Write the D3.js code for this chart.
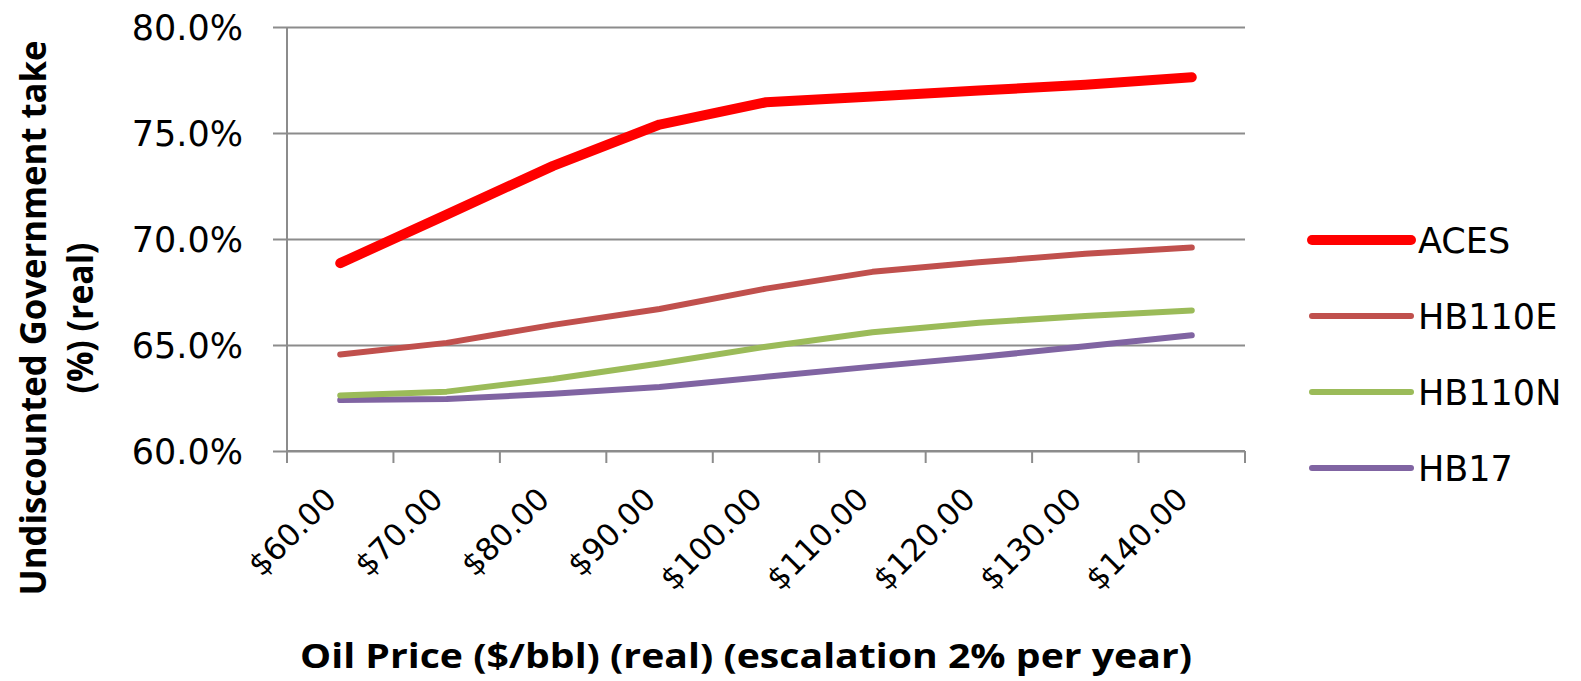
<!DOCTYPE html>
<html>
<head>
<meta charset="utf-8">
<script src="https://cdn.jsdelivr.net/npm/d3@7"></script>
<style>
  html, body { margin: 0; padding: 0; background: #fff; }
  svg { display: block; }
</style>
</head>
<body>
<svg id="chart" width="1581" height="681"></svg>
<script>
// Oil price categories (real, $/bbl)
const categories = ["$60.00", "$70.00", "$80.00", "$90.00", "$100.00", "$110.00", "$120.00", "$130.00", "$140.00"];

// Undiscounted government take (%) by fiscal regime
const aces    = [68.86, 71.15, 73.45, 75.40, 76.45, 76.72, 77.00, 77.28, 77.63];
const hb110e  = [64.55, 65.10, 65.95, 66.70, 67.66, 68.45, 68.90, 69.30, 69.60];
const hb110n  = [62.62, 62.80, 63.40, 64.13, 64.92, 65.60, 66.05, 66.37, 66.63];
const hb17    = [62.40, 62.45, 62.70, 63.02, 63.50, 63.98, 64.43, 64.94, 65.46];

const seriesNames = ["ACES", "HB110E", "HB110N", "HB17"];
const yTicks = [60, 65, 70, 75, 80];

const series = [
  { name: seriesNames[0], values: aces,   color: "#FF0000", width: 10 },
  { name: seriesNames[1], values: hb110e, color: "#C0504D", width: 6 },
  { name: seriesNames[2], values: hb110n, color: "#9BBB59", width: 6 },
  { name: seriesNames[3], values: hb17,   color: "#8064A2", width: 6 }
];

const svg = d3.select("#chart");
const plot = { left: 287, right: 1245, top: 27, bottom: 451 };
const gridColor = "#8c8c8c";

const x = d3.scaleBand().domain(categories).range([plot.left, plot.right]).paddingInner(0).paddingOuter(0);
const y = d3.scaleLinear().domain([60, 80]).range([plot.bottom, plot.top]);
const cx = c => x(c) + x.bandwidth() / 2;

// Horizontal gridlines with left tick stubs
const yAxis = d3.axisLeft(y)
  .tickValues(yTicks)
  .tickSize(plot.right - plot.left + 14)
  .tickFormat(d => d3.format(".1f")(d) + "%");

const gY = svg.append("g")
  .attr("transform", `translate(${plot.right},0)`)
  .call(yAxis);
gY.select(".domain").remove();
gY.selectAll(".tick line").attr("stroke", gridColor).attr("stroke-width", 2);
gY.selectAll(".tick text")
  .attr("x", -(plot.right - plot.left) - 44)
  .attr("dy", "0.36em")
  .attr("fill", "#000")
  .style("font-family", "'DejaVu Sans', sans-serif")
  .style("font-size", "35px");

// Vertical axis line (extends slightly below the category axis)
svg.append("line")
  .attr("x1", plot.left).attr("x2", plot.left)
  .attr("y1", plot.top).attr("y2", plot.bottom + 12)
  .attr("stroke", gridColor).attr("stroke-width", 2);

// Category axis with boundary ticks
const boundaries = categories.map(c => x(c)).concat([plot.right]);
svg.append("line")
  .attr("x1", plot.left).attr("x2", plot.right)
  .attr("y1", plot.bottom).attr("y2", plot.bottom)
  .attr("stroke", gridColor).attr("stroke-width", 2);
svg.append("g").selectAll("line")
  .data(boundaries)
  .join("line")
  .attr("x1", d => d).attr("x2", d => d)
  .attr("y1", plot.bottom).attr("y2", plot.bottom + 12)
  .attr("stroke", gridColor).attr("stroke-width", 2);

// Rotated category labels
svg.append("g").selectAll("text")
  .data(categories)
  .join("text")
  .attr("transform", d => `translate(${cx(d) - 2},${plot.bottom + 50}) rotate(-45)`)
  .attr("text-anchor", "end")
  .attr("fill", "#000")
  .style("font-family", "'DejaVu Sans', sans-serif")
  .style("font-size", "31px")
  .text(d => d);

// Series lines
const line = d3.line()
  .x((d, i) => cx(categories[i]))
  .y(d => y(d));

svg.append("g").selectAll("path")
  .data(series.slice().reverse())
  .join("path")
  .attr("d", s => line(s.values))
  .attr("fill", "none")
  .attr("stroke", s => s.color)
  .attr("stroke-width", s => s.width)
  .attr("stroke-linecap", "round")
  .attr("stroke-linejoin", "round");

// Legend
const legendY = d3.scalePoint().domain(seriesNames).range([240, 468]);
const legend = svg.append("g").selectAll("g")
  .data(series)
  .join("g")
  .attr("transform", s => `translate(0,${legendY(s.name)})`);
legend.append("line")
  .attr("x1", 1312).attr("x2", 1411)
  .attr("stroke", s => s.color)
  .attr("stroke-width", s => s.width)
  .attr("stroke-linecap", "round");
legend.append("text")
  .attr("x", 1418)
  .attr("dy", "0.36em")
  .attr("fill", "#000")
  .style("font-family", "'DejaVu Sans', sans-serif")
  .style("font-size", "35px")
  .text(s => s.name);

// Axis titles
const titleFont = "'Liberation Sans Narrow', 'Open Sans', sans-serif";
svg.append("text")
  .attr("x", 746).attr("y", 668)
  .attr("text-anchor", "middle")
  .attr("textLength", 892)
  .attr("lengthAdjust", "spacingAndGlyphs")
  .style("font-family", titleFont)
  .style("font-weight", "bold")
  .style("font-size", "34px")
  .text("Oil Price ($/bbl) (real) (escalation 2% per year)");

const yTitle = svg.append("g").attr("transform", "translate(0,318) rotate(-90)");
yTitle.append("text")
  .attr("x", 0).attr("y", 46)
  .attr("text-anchor", "middle")
  .attr("textLength", 555)
  .attr("lengthAdjust", "spacingAndGlyphs")
  .style("font-family", titleFont)
  .style("font-weight", "bold")
  .style("font-size", "35px")
  .text("Undiscounted Government take");
yTitle.append("text")
  .attr("x", 0).attr("y", 93)
  .attr("text-anchor", "middle")
  .attr("textLength", 151)
  .attr("lengthAdjust", "spacingAndGlyphs")
  .style("font-family", titleFont)
  .style("font-weight", "bold")
  .style("font-size", "35px")
  .text("(%) (real)");
</script>
</body>
</html>
